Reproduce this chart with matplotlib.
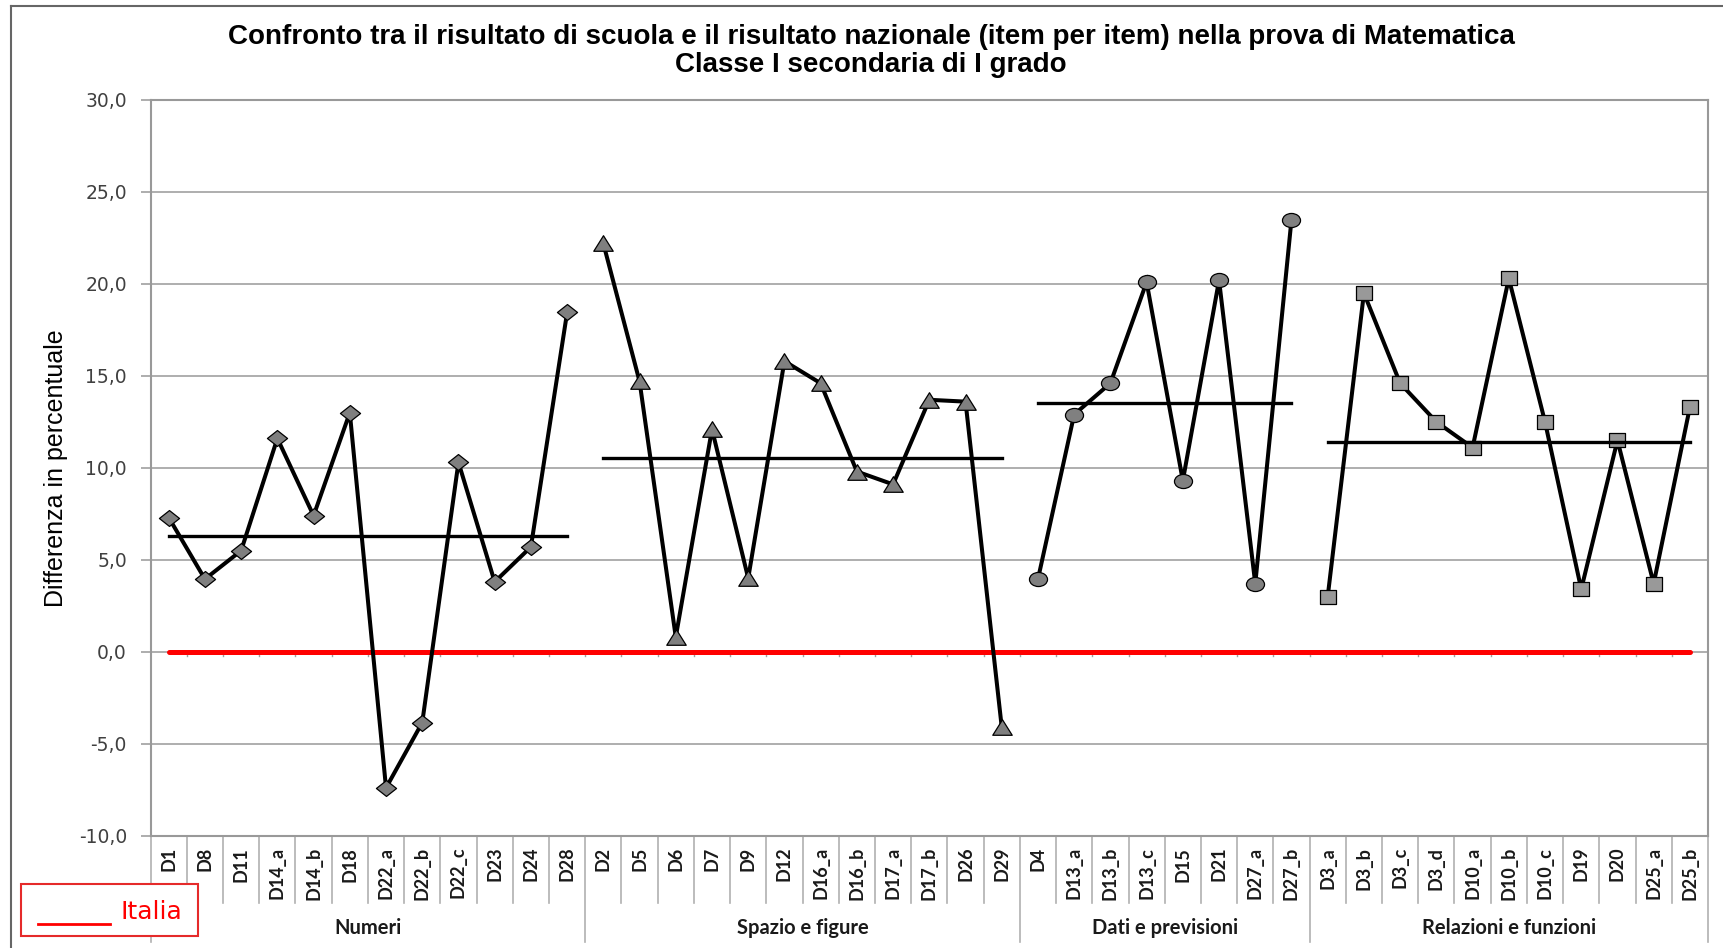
import matplotlib
matplotlib.use('Agg')
import matplotlib.pyplot as plt
import numpy as np
from matplotlib.path import Path
from matplotlib.lines import Line2D
from matplotlib.patches import Rectangle

# ---------------- data ----------------
title_line1 = "Confronto tra il risultato di scuola e il risultato nazionale (item per item) nella prova di Matematica"
title_line2 = "Classe I secondaria di I grado"
ylabel_text = "Differenza in percentuale"
legend_label = "Italia"

group_names = ["Numeri", "Spazio e figure", "Dati e previsioni", "Relazioni e funzioni"]

numeri_items = ['D1', 'D8', 'D11', 'D14_a', 'D14_b', 'D18', 'D22_a', 'D22_b', 'D22_c', 'D23', 'D24', 'D28']
numeri_vals = [7.3, 3.95, 5.5, 11.6, 7.4, 13.0, -7.4, -3.85, 10.3, 3.8, 5.7, 18.45]

spazio_items = ['D2', 'D5', 'D6', 'D7', 'D9', 'D12', 'D16_a', 'D16_b', 'D17_a', 'D17_b', 'D26', 'D29']
spazio_vals = [22.2, 14.7, 0.8, 12.1, 4.0, 15.8, 14.6, 9.8, 9.1, 13.7, 13.6, -4.1]

dati_items = ['D4', 'D13_a', 'D13_b', 'D13_c', 'D15', 'D21', 'D27_a', 'D27_b']
dati_vals = [3.95, 12.9, 14.6, 20.1, 9.3, 20.2, 3.7, 23.5]

rel_items = ['D3_a', 'D3_b', 'D3_c', 'D3_d', 'D10_a', 'D10_b', 'D10_c', 'D19', 'D20', 'D25_a', 'D25_b']
rel_vals = [3.0, 19.5, 14.6, 12.5, 11.1, 20.3, 12.5, 3.4, 11.5, 3.7, 13.3]

ytick_values = [-10, -5, 0, 5, 10, 15, 20, 25, 30]
ytick_labels = ['-10,0', '-5,0', '0,0', '5,0', '10,0', '15,0', '20,0', '25,0', '30,0']

# ---------------- figure ----------------
W, H = 1724, 948
fig = plt.figure(figsize=(W / 100, H / 100), dpi=100)
fig.patch.set_facecolor('white')
ax_left, ax_right, ax_top, ax_bot = 150.6, 1708.0, 100.0, 835.7
ax = fig.add_axes([ax_left / W, 1 - ax_bot / H, (ax_right - ax_left) / W, (ax_bot - ax_top) / H])


def make_marker(verts, sy):
    v = np.array(verts, dtype=float)
    v[:, 1] *= sy
    codes = [Path.MOVETO] + [Path.LINETO] * (len(v) - 2) + [Path.CLOSEPOLY]
    return Path(v, codes)


diamond = make_marker([(0, 1), (1, 0), (0, -1), (-1, 0), (0, 1)], 0.79)
triangle = make_marker([(0, 1), (1, -1), (-1, -1), (0, 1)], 0.80)
square = make_marker([(-1, -1), (1, -1), (1, 1), (-1, 1), (-1, -1)], 0.82)
uc = Path.unit_circle()
circle = Path(uc.vertices * np.array([1.0, 0.78]), uc.codes)

groups = [
    (numeri_items, numeri_vals, diamond, 14.5, '#7f7f7f'),
    (spazio_items, spazio_vals, triangle, 14, '#7f7f7f'),
    (dati_items, dati_vals, circle, 13, '#808080'),
    (rel_items, rel_vals, square, 11.5, '#999999'),
]

all_items = []
start = 0
bounds = [-0.5]
centers = []
for items, vals, mk, ms, fc in groups:
    xs = np.arange(start, start + len(items))
    ax.plot(xs, vals, color='black', lw=2.9, zorder=4, solid_joinstyle='miter')
    ax.plot(xs, vals, linestyle='none', marker=mk, markersize=ms,
            markerfacecolor=fc, markeredgecolor='black', markeredgewidth=0.9, zorder=5)
    m = float(np.mean(vals))
    ax.plot([xs[0], xs[-1]], [m, m], color='black', lw=2.4, zorder=6)
    all_items += items
    centers.append((xs[0] + xs[-1]) / 2)
    start += len(items)
    bounds.append(start - 0.5)

n = len(all_items)
x_all = np.arange(n)

# Italia reference line
ax.plot([0, n - 1], [0, 0], color='#ff0000', lw=3.6, solid_capstyle='round', zorder=3)
# small ticks on zero axis
for b in np.arange(0.5, n - 0.5):
    ax.plot([b, b], [0, -0.22], color='#a0a0a0', lw=1.0, zorder=2)

ax.set_xlim(-0.5, n - 0.5)
ax.set_ylim(-10, 30)
ax.set_yticks(ytick_values)
ax.set_yticklabels(ytick_labels, fontfamily='DejaVu Sans', fontsize=13.5, color='#404040')
ax.yaxis.grid(True, color='#a8a8a8', lw=1.3)
ax.set_axisbelow(True)
ax.tick_params(axis='y', length=7, width=1.2, color='#a0a0a0', pad=10)

ax.set_xticks(x_all)
ax.set_xticklabels(all_items, rotation=90, fontfamily='Lato', fontweight='bold', fontsize=13, color='#1a1a1a')
ax.tick_params(axis='x', length=0, pad=8)

for s in ax.spines.values():
    s.set_color('#999999')
    s.set_linewidth(1.5)

# category separators below the axis
trans = ax.get_xaxis_transform()
for b in np.arange(-0.5, n):
    depth = 0.1445 if any(abs(b - gb) < 1e-6 for gb in bounds) else 0.0915
    ax.add_line(Line2D([b, b], [0, -depth], transform=trans, color='#b0b0b0', lw=1.2, clip_on=False))

for c, name in zip(centers, group_names):
    ax.text(c, -0.1255, name, transform=trans, ha='center', va='center',
            fontfamily='Lato', fontweight='bold', fontsize=14.5, color='#1a1a1a')

# titles and y label
fig.text(871 / W, 1 - 37.5 / H, title_line1, ha='center', va='center',
         fontfamily='Liberation Sans', fontweight='bold', fontsize=20)
fig.text(871 / W, 1 - 65.5 / H, title_line2, ha='center', va='center',
         fontfamily='Liberation Sans', fontweight='bold', fontsize=20)
fig.text(56 / W, 1 - 468 / H, ylabel_text, rotation=90, ha='center', va='center',
         fontfamily='Liberation Sans', fontsize=18)

# legend box
fig.patches.append(Rectangle((21 / W, 1 - 936 / H), (198 - 21) / W, (936 - 884) / H,
                             transform=fig.transFigure, facecolor='white', edgecolor='#e52a2a',
                             lw=1.5, zorder=10))
fig.lines.append(Line2D([38 / W, 110 / W], [1 - 924 / H, 1 - 924 / H], transform=fig.transFigure,
                        color='#ff0000', lw=2.0, zorder=11))
fig.text(121 / W, 1 - 919 / H, legend_label, ha='left', va='baseline', fontfamily='DejaVu Sans',
         fontsize=18, color='#ff0000', zorder=12)

# outer chart border (left and top)
fig.lines.append(Line2D([11 / W, 11 / W], [0, 1 - 6 / H], transform=fig.transFigure, color='#666666', lw=1.5))
fig.lines.append(Line2D([11 / W, 1], [1 - 6 / H, 1 - 6 / H], transform=fig.transFigure, color='#666666', lw=1.5))

fig.savefig('out.png', dpi=100)
